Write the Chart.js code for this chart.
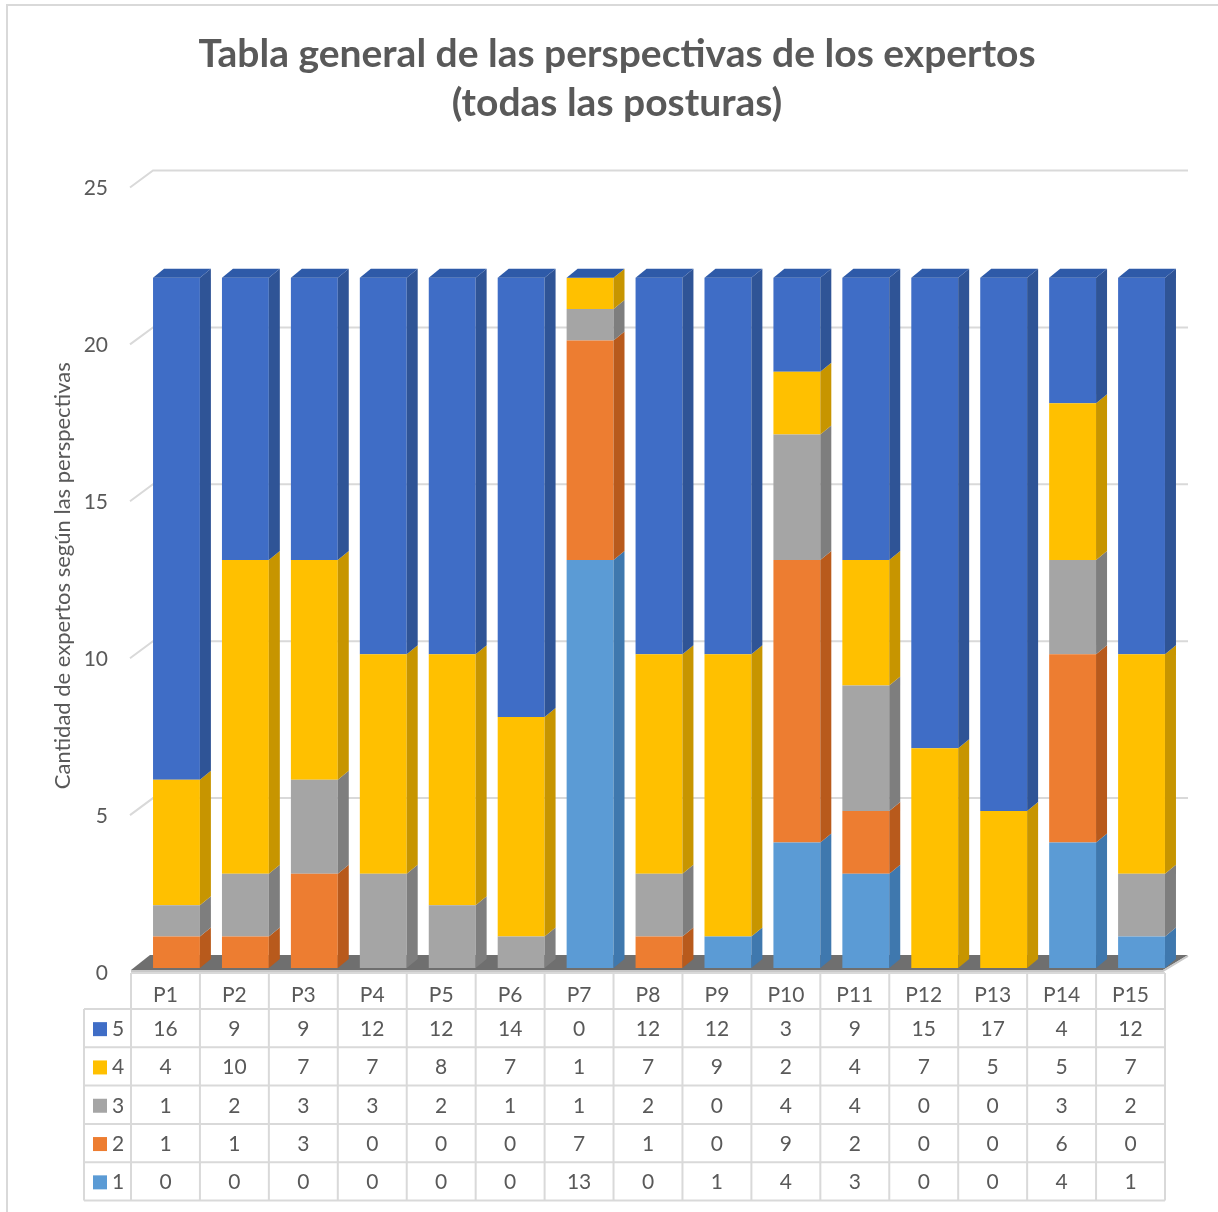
<!DOCTYPE html>
<html>
<head>
<meta charset="utf-8">
<script src="https://cdn.jsdelivr.net/npm/chart.js@4.4.0/dist/chart.umd.min.js"></script>
<style>
  html, body { margin: 0; padding: 0; background: #fff; }
  #wrap { width: 1218px; height: 1212px; }
</style>
</head>
<body>
<div id="wrap"><canvas id="chart" width="1218" height="1212"></canvas></div>
<script>
const preguntas = ["P1", "P2", "P3", "P4", "P5", "P6", "P7", "P8", "P9", "P10", "P11", "P12", "P13", "P14", "P15"];
const valor1 = [0, 0, 0, 0, 0, 0, 13, 0, 1, 4, 3, 0, 0, 4, 1];
const valor2 = [1, 1, 3, 0, 0, 0, 7, 1, 0, 9, 2, 0, 0, 6, 0];
const valor3 = [1, 2, 3, 3, 2, 1, 1, 2, 0, 4, 4, 0, 0, 3, 2];
const valor4 = [4, 10, 7, 7, 8, 7, 1, 7, 9, 2, 4, 7, 5, 5, 7];
const valor5 = [16, 9, 9, 12, 12, 14, 0, 12, 12, 3, 9, 15, 17, 4, 12];
const yTicks = [0, 5, 10, 15, 20, 25];

const colores = ["#5B9BD5", "#ED7D31", "#A5A5A5", "#FFC000", "#3F6DC6"];
const lados = ["#3F78AE", "#B85A1C", "#7E7E7E", "#C79500", "#2F5496"];
const FONT = "Lato, 'Liberation Sans', sans-serif";
const GRIS = "#595959";
const DX = 11, DY = 9;

// 3D-ish look: floor, back grid, side faces, top caps
const efecto3d = {
  id: "efecto3d",
  beforeDatasetsDraw(chart) {
    const { ctx, chartArea: a, scales: { y } } = chart;
    ctx.save();
    ctx.strokeStyle = "#d9d9d9";
    ctx.lineWidth = 2;
    yTicks.forEach(v => {
      if (v === 0) return;
      const py = y.getPixelForValue(v);
      ctx.beginPath();
      ctx.moveTo(a.left - 12, py + 4);
      ctx.lineTo(a.left + 11, py - 13);
      ctx.lineTo(a.right + 12, py - 13);
      ctx.stroke();
    });
    const b = y.getPixelForValue(0);
    ctx.beginPath();
    ctx.moveTo(a.left - 11, b + 2);
    ctx.lineTo(a.right - 13, b + 2);
    ctx.lineTo(a.right + 12, b - 13);
    ctx.lineTo(a.left + 8, b - 13);
    ctx.closePath();
    ctx.fillStyle = "#6f6f6f";
    ctx.fill();
    ctx.strokeStyle = "#c8c8c8";
    ctx.lineWidth = 2;
    ctx.beginPath();
    ctx.moveTo(a.left - 11, b + 3);
    ctx.lineTo(a.right - 13, b + 3);
    ctx.lineTo(a.right + 12, b - 12);
    ctx.stroke();
    ctx.restore();
  },
  afterDatasetsDraw(chart) {
    const { ctx } = chart;
    ctx.save();
    chart.data.datasets.forEach((ds, di) => {
      const meta = chart.getDatasetMeta(di);
      meta.data.forEach(el => {
        const { x, y, base, width } = el.getProps(["x", "y", "base", "width"], true);
        const r = x + width / 2;
        if (Math.abs(base - y) > 0.5) {
          ctx.beginPath();
          ctx.moveTo(r, y);
          ctx.lineTo(r + DX, y - DY);
          ctx.lineTo(r + DX, base - DY);
          ctx.lineTo(r, base);
          ctx.closePath();
          ctx.fillStyle = lados[di];
          ctx.fill();
        }
        if (di === chart.data.datasets.length - 1) {
          const l = x - width / 2;
          ctx.beginPath();
          ctx.moveTo(l, y);
          ctx.lineTo(l + DX, y - DY);
          ctx.lineTo(r + DX, y - DY);
          ctx.lineTo(r, y);
          ctx.closePath();
          ctx.fillStyle = "#2E5AA8";
          ctx.fill();
        }
      });
    });
    ctx.restore();
  }
};

// data table under the plot
const tablaDatos = {
  id: "tablaDatos",
  afterDraw(chart) {
    const { ctx, scales: { x, y } } = chart;
    const colW = x.getPixelForValue(1) - x.getPixelForValue(0);
    const centros = preguntas.map((p, i) => x.getPixelForValue(i) - 11);
    const x0 = centros[0] - colW / 2;
    const x1 = centros[centros.length - 1] + colW / 2;
    const xLeyenda = x0 - 47;
    const top = y.getPixelForValue(0) + 5;
    const headH = 36, rowH = 38.3;
    const filas = [
      { nombre: "5", datos: valor5, color: colores[4] },
      { nombre: "4", datos: valor4, color: colores[3] },
      { nombre: "3", datos: valor3, color: colores[2] },
      { nombre: "2", datos: valor2, color: colores[1] },
      { nombre: "1", datos: valor1, color: colores[0] }
    ];
    const fondo = top + headH + rowH * filas.length;

    ctx.save();
    ctx.strokeStyle = "#d9d9d9";
    ctx.lineWidth = 2;
    ctx.beginPath();
    ctx.moveTo(x0, top); ctx.lineTo(x1, top);
    for (let r = 0; r <= filas.length; r++) {
      const py = top + headH + rowH * r;
      ctx.moveTo(xLeyenda, py); ctx.lineTo(x1, py);
    }
    for (let c = 0; c <= preguntas.length; c++) {
      const px = x0 + colW * c;
      ctx.moveTo(px, top); ctx.lineTo(px, fondo);
    }
    ctx.moveTo(xLeyenda, top + headH); ctx.lineTo(xLeyenda, fondo);
    ctx.stroke();

    ctx.fillStyle = GRIS;
    ctx.font = "21px " + FONT;
    ctx.textAlign = "center";
    ctx.textBaseline = "middle";
    preguntas.forEach((p, i) => ctx.fillText(p, centros[i], top + headH / 2 + 4));
    filas.forEach((f, r) => {
      const cy = top + headH + rowH * r + rowH / 2 + 1;
      ctx.fillStyle = GRIS;
      ctx.textAlign = "center";
      f.datos.forEach((v, i) => ctx.fillText(String(v), centros[i], cy));
      ctx.fillStyle = f.color;
      ctx.fillRect(xLeyenda + 9, cy - 7, 14, 14);
      ctx.fillStyle = GRIS;
      ctx.textAlign = "left";
      ctx.fillText(f.nombre, xLeyenda + 28, cy);
    });

    // outer frame (top and left edges visible)
    ctx.strokeStyle = "#d9d9d9";
    ctx.lineWidth = 2;
    ctx.beginPath();
    ctx.moveTo(7, 1220); ctx.lineTo(7, 5); ctx.lineTo(1230, 5);
    ctx.stroke();
    ctx.restore();
  }
};

const ctx1 = document.getElementById("chart").getContext("2d");
const grafico = new Chart(ctx1, {
  type: "bar",
  data: {
    labels: preguntas,
    datasets: [
      { label: "1", data: valor1, backgroundColor: colores[0] },
      { label: "2", data: valor2, backgroundColor: colores[1] },
      { label: "3", data: valor3, backgroundColor: colores[2] },
      { label: "4", data: valor4, backgroundColor: colores[3] },
      { label: "5", data: valor5, backgroundColor: colores[4] }
    ]
  },
  options: {
    responsive: false,
    animation: false,
    layout: { padding: { left: 16, right: 0, top: 0, bottom: 244 } },
    datasets: { bar: { categoryPercentage: 1, barPercentage: 0.68 } },
    plugins: {
      legend: { display: false },
      tooltip: { enabled: false },
      title: {
        display: true,
        text: ["Tabla general de las perspectivas de los expertos", "(todas las posturas)"],
        color: GRIS,
        font: { family: FONT, size: 39, weight: "bold", lineHeight: 1.25 },
        padding: { top: 30, bottom: 56 }
      }
    },
    scales: {
      x: { stacked: true, display: false },
      y: {
        stacked: true,
        min: 0,
        max: 25,
        afterBuildTicks: (scale) => { scale.ticks = yTicks.map(v => ({ value: v })); },
        afterFit: (scale) => { scale.width = 126; },
        grid: { display: false, drawTicks: false },
        border: { display: false },
        ticks: { color: GRIS, padding: 34, labelOffset: 5, font: { family: FONT, size: 21 } },
        title: {
          display: true,
          text: "Cantidad de expertos según las perspectivas",
          color: GRIS,
          font: { family: FONT, size: 22 },
          padding: { top: 34, bottom: 0 }
        }
      },
      derecha: {
        position: "right",
        display: true,
        afterFit: (scale) => { scale.width = 42; },
        grid: { display: false, drawTicks: false },
        border: { display: false },
        ticks: { display: false }
      }
    }
  },
  plugins: [efecto3d, tablaDatos]
});
</script>
</body>
</html>
